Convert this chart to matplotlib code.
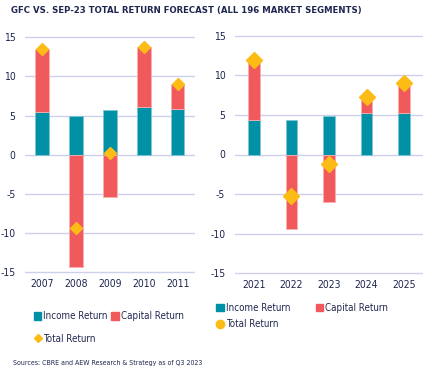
import matplotlib.pyplot as plt
from matplotlib.lines import Line2D
from matplotlib.patches import Patch

plt.rcParams['font.family'] = ['DejaVu Sans']
plt.rcParams['font.stretch'] = 'condensed'
plt.rcParams['axes.unicode_minus'] = False

# GFC period
gfc_years = ['2007', '2008', '2009', '2010', '2011']
gfc_income = [5.5, 5.0, 5.65, 6.1, 5.8]
gfc_capital = [8.0, -14.4, -5.45, 7.6, 3.2]
gfc_total = [13.5, -9.3, 0.2, 13.7, 9.0]

# Sep-23 forecast
fc_years = ['2021', '2022', '2023', '2024', '2025']
fc_income = [4.3, 4.3, 4.9, 5.3, 5.3]
fc_capital = [7.4, -9.45, -6.0, 1.8, 3.5]
fc_total = [11.9, -5.2, -1.2, 7.25, 9.0]

teal = '#0091A6'
red = '#F05A5C'
gold = '#FDBB16'
navy = '#1F2650'
grid = '#CDD0EC'

fig = plt.figure(figsize=(4.32, 3.75), dpi=100)


def draw(ax, years, income, capital, total, width, msize):
    x = range(len(years))
    ax.bar(x, income, width=width, color=teal, edgecolor='#7FC6D2', linewidth=0.6, zorder=2)
    # capital stacks on income when positive, hangs from zero when negative
    bottoms = [i if c > 0 else 0 for i, c in zip(income, capital)]
    ax.bar(x, capital, bottom=bottoms, width=width, color=red, edgecolor='#F8B0B0', linewidth=0.6, zorder=2)
    ax.plot(x, total, linestyle='none', marker='D', markersize=msize, color=gold, zorder=3)
    ax.set_ylim(-15.3, 15.3)
    ax.set_xlim(-0.5, 4.5)
    ax.set_yticks([-15, -10, -5, 0, 5, 10, 15])
    ax.set_xticks(list(x))
    ax.set_xticklabels(years)
    ax.yaxis.grid(True, color=grid, linewidth=1.0, zorder=0)
    ax.set_axisbelow(True)
    for s in ax.spines.values():
        s.set_visible(False)
    ax.tick_params(length=0, labelsize=7.5, colors=navy, pad=7)
    ax.tick_params(axis='x', pad=3)


ax1 = fig.add_axes([0.058, 0.268, 0.393, 0.639])
draw(ax1, gfc_years, gfc_income, gfc_capital, gfc_total, 0.39, 6.6)

ax2 = fig.add_axes([0.544, 0.265, 0.435, 0.646])
draw(ax2, fc_years, fc_income, fc_capital, fc_total, 0.31, 8.5)

fig.text(0.026, 0.972, 'GFC VS. SEP-23 TOTAL RETURN FORECAST (ALL 196 MARKET SEGMENTS)',
         fontsize=6.8, fontweight='bold', color=navy, va='center')

h_inc = Patch(color=teal, label='Income Return')
h_cap = Patch(color=red, label='Capital Return')
h_tot1 = Line2D([], [], linestyle='none', marker='D', markersize=4.5, color=gold, label='Total Return')
h_tot2 = Line2D([], [], linestyle='none', marker='o', markersize=6, color=gold, label='Total Return')

fig.legend(handles=[h_inc, h_tot1, h_cap], ncol=2, loc='upper left',
           bbox_to_anchor=(0.078, 0.17), frameon=False, fontsize=7, labelcolor=navy,
           handlelength=0.8, handleheight=0.8, handletextpad=0.2, columnspacing=0.35,
           labelspacing=1.3, borderpad=0, borderaxespad=0)
fig.legend(handles=[h_inc, h_tot2, h_cap], ncol=2, loc='upper left',
           bbox_to_anchor=(0.5, 0.192), frameon=False, fontsize=7, labelcolor=navy,
           handlelength=0.8, handleheight=0.8, handletextpad=0.2, columnspacing=2.6,
           labelspacing=0.65, borderpad=0, borderaxespad=0)

fig.text(0.03, 0.032, 'Sources: CBRE and AEW Research & Strategy as of Q3 2023',
         fontsize=5.0, color=navy, va='center')

fig.savefig('out.png', dpi=100)
